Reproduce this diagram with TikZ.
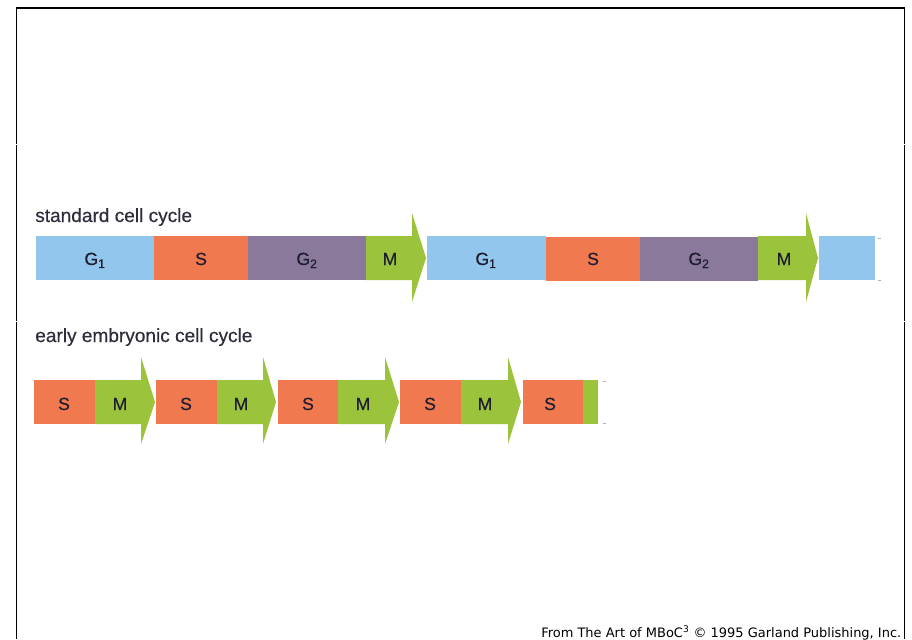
\documentclass[tikz,border=0pt]{standalone}
\usepackage{fontspec}
\setmainfont{Liberation Sans}
\newfontfamily\labfont[FakeBold=0.5]{Liberation Sans}
\newfontfamily\titfont[FakeBold=0.35]{Liberation Sans}
\newfontfamily\credfont{DejaVu Sans}
\definecolor{cblue}{RGB}{146,198,236}
\definecolor{corange}{RGB}{240,121,80}
\definecolor{cpurple}{RGB}{139,121,156}
\definecolor{cgreen}{RGB}{156,195,60}
\definecolor{ctext}{RGB}{30,30,48}
\tikzset{
  seglabel/.style={anchor=base, text=ctext, font=\labfont\fontsize{13.2}{15}\selectfont, inner sep=0pt},
  titlelabel/.style={anchor=base west, text=ctext!85!gray, font=\titfont\fontsize{14.3}{16}\selectfont, inner sep=0pt},
  frameline/.style={line width=1.1pt, black},
  tickmark/.style={gray!60, line width=0.5pt}
}
\begin{document}
\begin{tikzpicture}[x=0.75pt,y=-0.75pt]
\useasboundingbox (0,0) rectangle (912,639);
\fill[white] (0,0) rectangle (912,639);
% frame
\draw[frameline] (16.5,639) -- (16.5,8) -- (904.5,8) -- (904.5,639);
\fill[white] (14,143.6) rectangle (19,144.6);
\fill[white] (902,143.6) rectangle (907,144.6);
\fill[white] (14,320.6) rectangle (19,321.6);
\fill[white] (902,320.6) rectangle (907,321.6);

% ---------- standard cell cycle ----------
\node[titlelabel] (stdtitle) at (35,222) {standard cell cycle};
% cycle 1
\fill[cblue]   (36,236) rectangle (154,280);
\fill[corange] (154,236) rectangle (248,280);
\fill[cpurple] (248,236) rectangle (366,280);
\fill[cgreen]  (366,236) -- (412,236) -- (412,213) -- (426,258) -- (412,302) -- (412,280) -- (366,280) -- cycle;
\node[seglabel] (g1a) at (95,265) {G\textsubscript{1}};
\node[seglabel] (sa)  at (201,265) {S};
\node[seglabel] (g2a) at (307,265) {G\textsubscript{2}};
\node[seglabel] (ma)  at (390,265) {M};
% cycle 2
\fill[cblue]   (427,236) rectangle (546,280);
\fill[corange] (546,237) rectangle (640,281);
\fill[cpurple] (640,237) rectangle (758,281);
\fill[cgreen]  (758,236) -- (806,236) -- (806,213) -- (818,258) -- (806,302) -- (806,280) -- (758,280) -- cycle;
\fill[cblue]   (819,236) rectangle (875,280);
\node[seglabel] (g1b) at (486,265) {G\textsubscript{1}};
\node[seglabel] (sb)  at (593,265) {S};
\node[seglabel] (g2b) at (699,265) {G\textsubscript{2}};
\node[seglabel] (mb)  at (784,265) {M};
\draw[tickmark] (878,238) -- (881,238);
\draw[tickmark] (878,280) -- (881,280);

% ---------- early embryonic cell cycle ----------
\node[titlelabel] (embtitle) at (35,342) {early embryonic cell cycle};
\fill[corange] (34,380) rectangle (95,424);
\fill[cgreen]  (95,380) -- (141,380) -- (141,357) -- (155,402) -- (141,444) -- (141,424) -- (95,424) -- cycle;
\fill[corange] (156,380) rectangle (217,424);
\fill[cgreen]  (217,380) -- (263,380) -- (263,357) -- (276,402) -- (263,444) -- (263,424) -- (217,424) -- cycle;
\fill[corange] (278,380) rectangle (338,424);
\fill[cgreen]  (338,380) -- (385,380) -- (385,357) -- (399,402) -- (385,444) -- (385,424) -- (338,424) -- cycle;
\fill[corange] (400,380) rectangle (461,424);
\fill[cgreen]  (461,380) -- (508,380) -- (508,357) -- (521,402) -- (508,444) -- (508,424) -- (461,424) -- cycle;
\fill[corange] (523,380) rectangle (583,424);
\fill[cgreen]  (583,380) rectangle (598,424);
\node[seglabel] (se1) at (64,410) {S};
\node[seglabel] (me1) at (120,410) {M};
\node[seglabel] (se2) at (186,410) {S};
\node[seglabel] (me2) at (241,410) {M};
\node[seglabel] (se3) at (308,410) {S};
\node[seglabel] (me3) at (363,410) {M};
\node[seglabel] (se4) at (430,410) {S};
\node[seglabel] (me4) at (485,410) {M};
\node[seglabel] (se5) at (550,410) {S};
\draw[tickmark] (603,381) -- (606,381);
\draw[tickmark] (603,423) -- (606,423);

% credit
\node[anchor=base west, inner sep=0pt, text=black] (credit) at (541,637)
  {\resizebox{270pt}{!}{\credfont\fontsize{10}{12}\selectfont From The Art of MBoC\textsuperscript{3} © 1995 Garland Publishing, Inc.}};
\end{tikzpicture}
\end{document}
